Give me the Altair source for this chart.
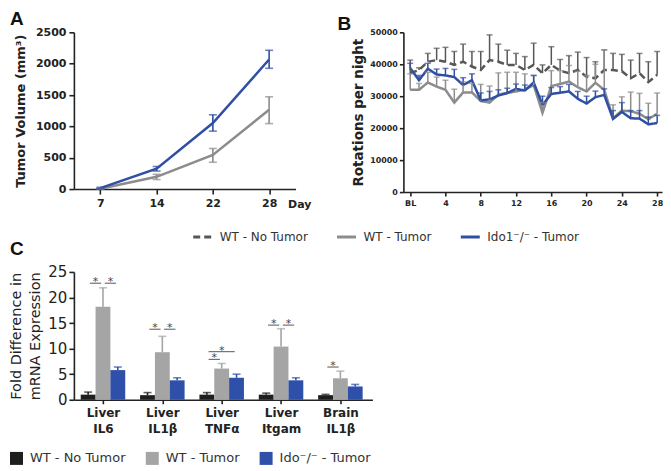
import altair as alt
import pandas as pd

# ---------------- Panel A : tumor volume ----------------
a_days = ["7", "14", "22", "28"]
a_series = ["WT - Tumor", "Ido1⁻/⁻ - Tumor"]
a_wt_mean = [5, 195, 543, 1264]
a_wt_low = [0, 152, 428, 1044]
a_wt_high = [12, 235, 647, 1472]
a_ido_mean = [15, 324, 1054, 2067]
a_ido_low = [5, 287, 924, 1926]
a_ido_high = [28, 360, 1185, 2213]

# ---------------- Panel B : rotations per night ----------------
b_series = ["WT - No Tumor", "WT - Tumor", "Ido1⁻/⁻ - Tumor"]
b_days = list(range(29))
b_nt_mean = [37200, 38200, 40800, 41300, 40800, 39800, 40800, 39300, 38200, 41300,
             40800, 39800, 39800, 38200, 39800, 37200, 39800, 38000, 37200, 38200,
             36100, 35600, 38200, 38200, 37800, 35600, 37200, 34400, 36700]
b_nt_upper = [41300, 38900, 43400, 45000, 45300, 44000, 46300, 44000, 44000, 49200,
              46300, 44400, 43400, 42400, 46600, 39800, 45500, 41500, 42700, 43800,
              42100, 40800, 44500, 43400, 43100, 41300, 43400, 40800, 44000]
b_wt_mean = [32000, 32000, 34300, 33000, 32000, 28000, 31200, 31200, 28500, 28000,
             30500, 31000, 31500, 32000, 33500, 24800, 33200, 33800, 34600, 32800,
             31500, 34200, 32000, 23100, 25500, 25300, 24500, 22800, 24500]
b_wt_upper = [37000, 34000, 37500, 36000, 35000, 32200, 34500, 34000, 33700, 33200,
              37300, 37500, 37500, 37000, 36500, 28000, 38000, 38000, 39600, 37800,
              36500, 40000, 44500, 27300, 29800, 31300, 30900, 27800, 31000]
b_ido_mean = [38800, 35000, 38600, 36800, 36500, 36000, 33500, 35000, 28700, 29000,
              30200, 31000, 32300, 31800, 34300, 27300, 30700, 31100, 31500, 29200,
              27700, 29700, 30400, 22900, 25100, 23100, 23000, 21200, 21600]
b_ido_upper = [40300, 36500, 40300, 38500, 38700, 38400, 35800, 37000, 31000, 31500,
               32000, 32500, 33800, 33500, 36500, 30000, 32700, 33000, 33700, 31500,
               30000, 31600, 32300, 25500, 28000, 25500, 25500, 23500, 24000]

# ---------------- Panel C : mRNA expression ----------------
c_groups = [["Liver", "IL6"], ["Liver", "IL1β"], ["Liver", "TNFα"], ["Liver", "Itgam"], ["Brain", "IL1β"]]
c_conds = ["WT - No Tumor", "WT - Tumor", "Ido⁻/⁻ - Tumor"]
c_nt_val = [1.0, 0.9, 1.0, 1.0, 0.9]
c_nt_up = [1.5, 1.4, 1.4, 1.3, 1.05]
c_wt_val = [18.2, 9.3, 6.1, 10.4, 4.2]
c_wt_up = [21.9, 12.4, 7.1, 13.9, 5.6]
c_ido_val = [5.8, 3.8, 4.3, 3.8, 2.6]
c_ido_up = [6.4, 4.3, 5.0, 4.3, 3.0]
# significance bars: group, from-bar, to-bar, height
c_sig_group = [0, 0, 1, 1, 2, 2, 3, 3, 4]
c_sig_from = [0, 1, 0, 1, 0, 0, 0, 1, 0]
c_sig_to = [1, 2, 1, 2, 1, 2, 1, 2, 1]
c_sig_height = [22.8, 22.8, 13.8, 13.8, 7.9, 9.4, 14.6, 14.6, 6.4]

# ---------------- styles ----------------
FONT = "DejaVu Sans"
TITLE_FONT = "Liberation Sans"
INK = "#222222"
col_nt, col_wt, col_ido = "#575757", "#8c8c8c", "#2f4fa3"

# ---------------- tables ----------------
rows_a = []
for s, m, lo, hi in [(a_series[0], a_wt_mean, a_wt_low, a_wt_high),
                     (a_series[1], a_ido_mean, a_ido_low, a_ido_high)]:
    for d, mm, l, h in zip(a_days, m, lo, hi):
        rows_a.append({"day": d, "series": s, "mean": mm, "low": l, "high": h})
df_a = pd.DataFrame(rows_a)

rows_b = []
for s, m, u in [(b_series[0], b_nt_mean, b_nt_upper),
                (b_series[1], b_wt_mean, b_wt_upper),
                (b_series[2], b_ido_mean, b_ido_upper)]:
    for d, mm, uu in zip(b_days, m, u):
        rows_b.append({"day": d, "series": s, "mean": mm, "upper": uu})
df_b = pd.DataFrame(rows_b)

rows_c = []
for k, (cname, vals, ups) in enumerate([(c_conds[0], c_nt_val, c_nt_up),
                                         (c_conds[1], c_wt_val, c_wt_up),
                                         (c_conds[2], c_ido_val, c_ido_up)]):
    for g, (v, u) in enumerate(zip(vals, ups)):
        rows_c.append({"g": g, "k": k, "cond": cname, "value": v, "upper": u})
df_c = pd.DataFrame(rows_c)

df_sig = pd.DataFrame({"g": c_sig_group, "k1": c_sig_from, "k2": c_sig_to, "h": c_sig_height})

# ---------------- Panel A chart ----------------
a_color = alt.Color("series:N", scale=alt.Scale(domain=a_series, range=[col_wt, col_ido]), legend=None)
a_x = alt.X("day:O", sort=a_days, scale=alt.Scale(type="point", padding=0.47),
            axis=alt.Axis(title="Day", titleX=214, titleY=15, titleAlign="left", titleBaseline="middle",
                          titleAngle=0, titleFont=FONT, titleFontSize=11, titleFontWeight="bold",
                          labelAngle=0, labelFont=FONT, labelFontSize=11, labelFontWeight="bold",
                          tickSize=5, labelPadding=3))
a_yaxis = alt.Axis(title="Tumor Volume (mm³)", values=[0, 500, 1000, 1500, 2000, 2500], format="d",
                   titleFont=FONT, titleFontSize=13, titleFontWeight="bold", titlePadding=8,
                   labelFont=FONT, labelFontSize=11, labelFontWeight="bold", tickSize=5, labelPadding=3)
a_yscale = alt.Scale(domain=[0, 2500], nice=False)

base_a = alt.Chart(df_a)
a_line = base_a.mark_line(strokeWidth=2.5).encode(
    x=a_x, y=alt.Y("mean:Q", scale=a_yscale, axis=a_yaxis), color=a_color)
a_err = base_a.mark_rule(strokeWidth=1.6).encode(
    x=a_x, y=alt.Y("low:Q", scale=a_yscale, axis=a_yaxis), y2="high:Q", color=a_color)
a_cap_hi = base_a.mark_tick(orient="horizontal", size=8, thickness=1.6).encode(
    x=a_x, y=alt.Y("high:Q", scale=a_yscale, axis=a_yaxis), color=a_color)
a_cap_lo = base_a.mark_tick(orient="horizontal", size=8, thickness=1.6).encode(
    x=a_x, y=alt.Y("low:Q", scale=a_yscale, axis=a_yaxis), color=a_color)

panel_a = alt.layer(a_line, a_err, a_cap_hi, a_cap_lo).properties(
    width=222, height=157,
    title=alt.TitleParams("A", anchor="start", frame="group", dx=-64, offset=-3,
                          font=TITLE_FONT, fontSize=19, fontWeight="bold", color="#111"))

# ---------------- Panel B chart ----------------
b_legend = alt.Legend(title=None, orient="none", legendX=-212, legendY=194, direction="horizontal",
                      labelFont=FONT, labelFontSize=12, labelColor="#333", symbolType="stroke",
                      symbolSize=361, symbolStrokeWidth=3, columnPadding=22, labelOffset=6)
b_color_leg = alt.Color("series:N", scale=alt.Scale(domain=b_series, range=[col_nt, col_wt, col_ido]),
                        legend=b_legend)
b_color = alt.Color("series:N", scale=alt.Scale(domain=b_series, range=[col_nt, col_wt, col_ido]),
                    legend=None)
b_dash = alt.StrokeDash("series:N", scale=alt.Scale(domain=b_series, range=[[7, 4], [1, 0], [1, 0]]),
                        legend=b_legend)
b_x = alt.X("day:Q", scale=alt.Scale(domain=[-0.77, 28.55], nice=False, zero=False),
            axis=alt.Axis(title=None, values=list(range(0, 29, 4)),
                          labelExpr="datum.value == 0 ? 'BL' : datum.label", labelFlush=False,
                          labelFont=FONT, labelFontSize=8, labelFontWeight="bold", tickSize=4, labelPadding=3))
b_yaxis = alt.Axis(title="Rotations per night", values=[0, 10000, 20000, 30000, 40000, 50000], format="d",
                   titleFont=FONT, titleFontSize=13.5, titleFontWeight="bold", titlePadding=4,
                   labelFont=FONT, labelFontSize=8, labelFontWeight="bold", tickSize=4, labelPadding=2)
b_yscale = alt.Scale(domain=[0, 50000], nice=False)

base_b = alt.Chart(df_b)
b_line = base_b.mark_line(strokeWidth=2.5).encode(
    x=b_x, y=alt.Y("mean:Q", scale=b_yscale, axis=b_yaxis), color=b_color_leg, strokeDash=b_dash,
    detail="series:N")
b_err = base_b.mark_rule(strokeWidth=1.5).encode(
    x=b_x, y=alt.Y("mean:Q", scale=b_yscale, axis=b_yaxis), y2="upper:Q", color=b_color)
b_cap = base_b.mark_tick(orient="horizontal", size=6, thickness=1.5).encode(
    x=b_x, y=alt.Y("upper:Q", scale=b_yscale, axis=b_yaxis), color=b_color)

panel_b = alt.layer(b_line, b_err, b_cap).properties(
    width=259, height=160,
    title=alt.TitleParams("B", anchor="start", frame="group", dx=-66, offset=-6,
                          font=TITLE_FONT, fontSize=19, fontWeight="bold", color="#111"))

# ---------------- Panel C chart ----------------
label_lines = "[" + ",".join("['%s','%s']" % (a, b) for a, b in c_groups) + "]"
c_xscale = alt.Scale(domain=[-0.49, 4.54], nice=False, zero=False)
c_xaxis = alt.Axis(title=None, values=[0, 1, 2, 3, 4], labelExpr=label_lines + "[datum.value]",
                   labelFlush=False, labelOverlap=False, labelFont=FONT, labelFontSize=12,
                   labelFontWeight="bold", labelLineHeight=16, tickSize=4, labelPadding=4)
c_yscale = alt.Scale(domain=[0, 25], nice=False)
c_yaxis = alt.Axis(title=["Fold Difference in", "mRNA Expression"], values=[0, 5, 10, 15, 20, 25],
                   titleFont=FONT, titleFontSize=14.5, titleFontWeight="normal", titleLineHeight=19,
                   titlePadding=5, labelFont=FONT, labelFontSize=15, tickSize=5, labelPadding=2)
c_legend = alt.Legend(title=None, orient="none", legendX=-64, legendY=180, direction="horizontal",
                      symbolType="square", symbolSize=169, symbolStrokeWidth=0, labelFont=FONT,
                      labelFontSize=13, labelColor="#333", columnPadding=20, labelOffset=7)
c_range = ["#1e1e1e", "#a5a5a5", "#2f50a8"]
c_color_leg = alt.Color("cond:N", scale=alt.Scale(domain=c_conds, range=c_range), legend=c_legend)
c_color = alt.Color("cond:N", scale=alt.Scale(domain=c_conds, range=c_range), legend=None)

base_c = alt.Chart(df_c).transform_calculate(
    pos="datum.g + (datum.k - 1) * 0.25",
    x0="datum.g + (datum.k - 1) * 0.25 - 0.125",
    x1="datum.g + (datum.k - 1) * 0.25 + 0.125")
c_bars = base_c.mark_bar().encode(
    x=alt.X("x0:Q", scale=c_xscale, axis=c_xaxis), x2="x1:Q",
    y=alt.Y("value:Q", scale=c_yscale, axis=c_yaxis, stack=None), y2=alt.Y2(datum=0),
    color=c_color_leg)
c_err = base_c.mark_rule(strokeWidth=1.6).encode(
    x=alt.X("pos:Q", scale=c_xscale, axis=c_xaxis),
    y=alt.Y("value:Q", scale=c_yscale, axis=c_yaxis), y2="upper:Q", color=c_color)
c_cap = base_c.mark_tick(orient="horizontal", size=8, thickness=1.6).encode(
    x=alt.X("pos:Q", scale=c_xscale, axis=c_xaxis),
    y=alt.Y("upper:Q", scale=c_yscale, axis=c_yaxis), color=c_color)

base_sig = alt.Chart(df_sig).transform_calculate(
    xs="datum.g + (datum.k1 - 1) * 0.25 + 0.03",
    xe="datum.g + (datum.k2 - 1) * 0.25 - 0.03",
    xm="datum.g + ((datum.k1 + datum.k2) / 2 - 1) * 0.25")
c_sig = base_sig.mark_rule(strokeWidth=1).encode(
    x=alt.X("xs:Q", scale=c_xscale, axis=c_xaxis), x2="xe:Q",
    y=alt.Y("h:Q", scale=c_yscale, axis=c_yaxis), color=alt.value("#555555"))
c_star = base_sig.mark_text(text="*", fontSize=11, font=FONT, dy=-1, baseline="middle").encode(
    x=alt.X("xm:Q", scale=c_xscale, axis=c_xaxis),
    y=alt.Y("h:Q", scale=c_yscale, axis=c_yaxis), color=alt.value("#444444"))

panel_c = alt.layer(c_bars, c_err, c_cap, c_sig, c_star).properties(
    width=299, height=128,
    title=alt.TitleParams("C", anchor="start", frame="group", dx=-64, offset=6,
                          font=TITLE_FONT, fontSize=19, fontWeight="bold", color="#111"))

# ---------------- assemble (2-column grid, flush to the plot areas) ----------------
chart = alt.concat(panel_a, panel_b, panel_c, columns=2, spacing={"row": 80, "column": 31},
                   bounds="flush", align="each").resolve_scale(
    color="independent", strokeDash="independent").resolve_legend(
    color="independent", strokeDash="independent").properties(
    padding={"top": 2, "left": 0, "right": 0, "bottom": 0}).configure_view(
    stroke=None).configure_axis(
    grid=False, domainColor=INK, domainWidth=1.6, tickColor=INK, tickWidth=1.6,
    labelColor=INK, titleColor=INK)

chart.save("out.html", embed_options={"renderer": "svg", "actions": False})
